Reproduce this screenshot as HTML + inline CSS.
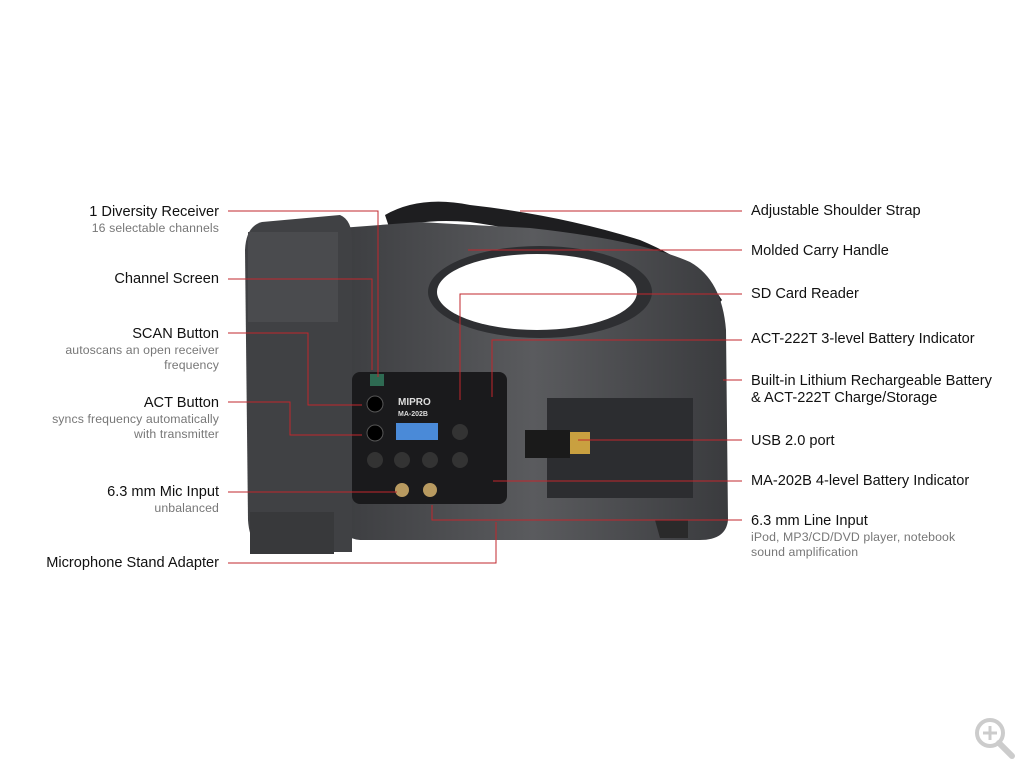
<!DOCTYPE html>
<html><head><meta charset="utf-8"><style>
body{margin:0;background:#fff;}
.l{position:absolute;font-family:"Liberation Sans",sans-serif;font-size:14.6px;color:#111;line-height:17px;white-space:nowrap;}
.s{font-size:12.3px;color:#777;line-height:15px;letter-spacing:0.1px;}
.r{text-align:right;right:805px;}
</style></head><body>
<div style="position:relative;width:1024px;height:768px;overflow:hidden">
<svg width="1024" height="768" style="position:absolute;left:0;top:0">
<defs><linearGradient id="g" x1="0" x2="1"><stop offset="0" stop-color="#3c3d40"/><stop offset=".5" stop-color="#5a5b5e"/><stop offset="1" stop-color="#3a3b3e"/></linearGradient></defs>
<path d="M385 215 Q420 195 470 205 Q560 215 640 240 Q700 265 722 300 L712 312 Q690 280 630 258 Q540 232 470 222 Q420 218 390 230 Z" fill="#1e1e20"/>
<path d="M340 228 L420 222 Q470 225 530 228 Q640 240 690 262 Q722 280 726 330 L728 520 Q726 540 700 540 L360 540 Q340 538 338 520 Z" fill="url(#g)"/>
<ellipse cx="540" cy="292" rx="112" ry="46" fill="#2e2f32"/>
<ellipse cx="537" cy="292" rx="100" ry="38" fill="#fff"/>
<path d="M262 222 L340 215 Q352 220 352 240 L352 552 L270 552 Q250 550 248 520 L245 250 Q246 226 262 222 Z" fill="#404144"/>
<rect x="248" y="232" width="90" height="90" fill="#4a4b4e"/>
<rect x="250" y="512" width="84" height="42" fill="#38393b"/>
<rect x="352" y="372" width="155" height="132" rx="8" fill="#1a1a1c"/>
<rect x="370" y="374" width="14" height="12" fill="#2e6a52"/>
<circle cx="375" cy="404" r="8" fill="#000" stroke="#555"/>
<circle cx="375" cy="433" r="8" fill="#000" stroke="#555"/>
<circle cx="375" cy="460" r="8" fill="#333"/>
<circle cx="402" cy="460" r="8" fill="#333"/><circle cx="430" cy="460" r="8" fill="#333"/><circle cx="460" cy="460" r="8" fill="#333"/>
<circle cx="460" cy="432" r="8" fill="#333"/>
<circle cx="402" cy="490" r="7" fill="#b89a60"/><circle cx="430" cy="490" r="7" fill="#b89a60"/>
<rect x="396" y="423" width="42" height="17" fill="#4a8ad8"/>
<text x="398" y="405" font-family="Liberation Sans" font-size="10" font-weight="bold" fill="#ddd">MIPRO</text>
<text x="398" y="416" font-family="Liberation Sans" font-size="7" font-weight="bold" fill="#ddd">MA-202B</text>
<rect x="547" y="398" width="146" height="100" fill="#2c2d30"/>
<rect x="525" y="430" width="45" height="28" fill="#1a1a1a"/>
<rect x="570" y="432" width="20" height="22" fill="#c9a040"/>
<path d="M655 520 L688 520 L688 538 L660 538 Z" fill="#2a2a2a"/>
<g stroke="#c1272d" stroke-width="1" fill="none">
<polyline points="228,211 378,211 378,377"/>
<polyline points="228,279 372,279 372,370"/>
<polyline points="228,333 308,333 308,405 362,405"/>
<polyline points="228,402 290,402 290,435 362,435"/>
<polyline points="228,492 397,492"/>
<polyline points="228,563 496,563 496,522"/>
<polyline points="520,211 742,211"/>
<polyline points="468,250 742,250"/>
<polyline points="742,294 460,294 460,400"/>
<polyline points="742,340 492,340 492,397"/>
<polyline points="723,380 742,380"/>
<polyline points="578,440 742,440"/>
<polyline points="493,481 742,481"/>
<polyline points="742,520 432,520 432,505"/>
</g>
<circle cx="990" cy="733" r="13" fill="none" stroke="#ccc" stroke-width="4"/>
<line x1="999" y1="743" x2="1012" y2="756" stroke="#ccc" stroke-width="6" stroke-linecap="round"/>
<path d="M983 733h14M990 726v14" stroke="#ccc" stroke-width="3"/>
</svg>
<div class="l r" style="top:204px">1 Diversity Receiver<div class="s">16 selectable channels</div></div>
<div class="l r" style="top:271px">Channel Screen</div>
<div class="l r" style="top:326px">SCAN Button<div class="s">autoscans an open receiver<br>frequency</div></div>
<div class="l r" style="top:395px">ACT Button<div class="s">syncs frequency automatically<br>with transmitter</div></div>
<div class="l r" style="top:484px">6.3 mm Mic Input<div class="s">unbalanced</div></div>
<div class="l r" style="top:555px">Microphone Stand Adapter</div>
<div class="l" style="left:751px;top:203px">Adjustable Shoulder Strap</div>
<div class="l" style="left:751px;top:243px">Molded Carry Handle</div>
<div class="l" style="left:751px;top:286px">SD Card Reader</div>
<div class="l" style="left:751px;top:331px">ACT-222T 3-level Battery Indicator</div>
<div class="l" style="left:751px;top:373px">Built-in Lithium Rechargeable Battery<br>&amp; ACT-222T Charge/Storage</div>
<div class="l" style="left:751px;top:433px">USB 2.0 port</div>
<div class="l" style="left:751px;top:473px">MA-202B 4-level Battery Indicator</div>
<div class="l" style="left:751px;top:513px">6.3 mm Line Input<div class="s">iPod, MP3/CD/DVD player, notebook<br>sound amplification</div></div>
</div>
</body></html>
